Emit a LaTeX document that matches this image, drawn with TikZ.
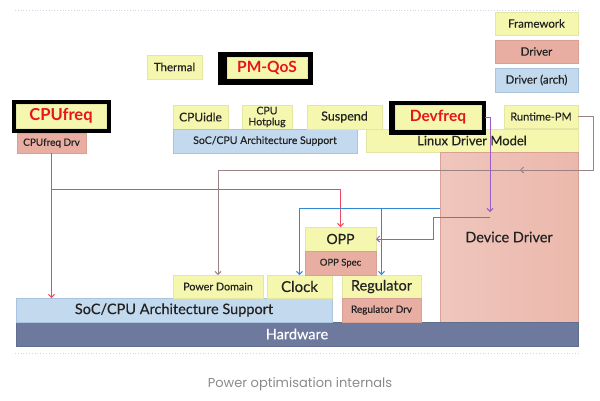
\documentclass[tikz,border=0pt]{standalone}
\usepackage{fontspec}
\setmainfont{Lato}[UprightFeatures={FakeBold=0.35}]
\newfontfamily\capfont{Poppins}
\usetikzlibrary{arrows.meta,calc}
\definecolor{yfill}{HTML}{F5F7AE}
\definecolor{ydraw}{HTML}{E4E7A4}
\definecolor{pfill}{HTML}{E8AEA2}
\definecolor{pdraw}{HTML}{D9A095}
\definecolor{ddleft}{HTML}{EFC6BD}
\definecolor{ddmid}{HTML}{E7A898}
\definecolor{ddright}{HTML}{ECB8AC}
\definecolor{bfill}{HTML}{C3D9EE}
\definecolor{bdraw}{HTML}{A9C4DE}
\definecolor{hwfill}{HTML}{6D7A9E}
\definecolor{redtxt}{HTML}{E8141E}
\definecolor{cred}{HTML}{F4475F}
\definecolor{cbrn}{HTML}{9C8282}
\definecolor{cblu}{HTML}{2E8AD6}
\definecolor{cpur}{HTML}{9B5CC4}
\definecolor{dotc}{HTML}{C8D8E8}
\definecolor{capc}{HTML}{8A8A8A}
\definecolor{txtc}{HTML}{222222}
\tikzset{
  base/.style={rectangle, inner sep=0pt, outer sep=0pt, line width=0.6pt, align=center, text=txtc},
  fw/.style={base, fill=yfill, draw=ydraw},
  drv/.style={base, fill=pfill, draw=pdraw},
  arch/.style={base, fill=bfill, draw=bdraw},
  blackbox/.style={base, fill=black, draw=black},
  conn/.style={line width=1pt, -{Straight Barb[length=3pt,width=6pt]}},
  fA/.style={font=\fontsize{10}{11}\selectfont},
  fB/.style={font=\fontsize{11.5}{12}\selectfont},
  fC/.style={font=\fontsize{14.5}{15}\selectfont},
  fR/.style={font=\fontsize{15.5}{16}\selectfont\bfseries, text=redtxt},
}
\newcommand\bx[7]{\node[#6, anchor=north west, minimum width={(#4)-(#2)}, minimum height={(#5)-(#3)}] (#1) at (#2,#3) {#7};}
\begin{document}
\begin{tikzpicture}[x=1pt,y=-1pt]
\useasboundingbox (0,0) rectangle (600,400);
% dotted rules
\draw[dotc, line width=0.8pt, dotted] (15,10) -- (579,10);
\draw[dotc, line width=0.8pt, dotted] (15,353) -- (579,353);
% legend
\bx{lfw}{495}{12}{578}{35}{fw,fB}{Framework}
\bx{ldrv}{495}{40}{578}{63}{drv,fB}{Driver}
\bx{larch}{495}{68}{578}{92}{arch,fB}{Driver (arch)}
% top frameworks
\bx{thermal}{147}{55}{202}{79}{fw,fB}{Thermal}
\bx{pmqosbox}{218}{52}{312}{84}{blackbox}{}
\bx{pmqos}{227}{57}{307}{78}{fw,fR}{PM-QoS}
\bx{cpufreqbox}{12}{100}{110}{132}{blackbox}{}
\bx{cpufreq}{16}{104}{106}{128}{fw,fR,font=\fontsize{16.5}{17}\selectfont\bfseries}{CPUfreq}
\bx{cpufreqdrv}{17}{133}{86}{153}{drv,fA}{CPUfreq Drv}
\bx{cpuidle}{173}{105}{228}{129}{fw,font=\fontsize{12}{13}\selectfont}{CPUidle}
\bx{hotplug}{242}{105}{292}{129}{fw,font=\fontsize{10.5}{11}\selectfont}{CPU\\Hotplug}
\bx{socup}{173}{129}{357}{153}{arch,font=\fontsize{10.5}{11}\selectfont}{SoC/CPU Architecture Support}
\bx{suspend}{307}{105}{382}{129}{fw,font=\fontsize{12.5}{13}\selectfont}{Suspend}
\bx{ldm}{366}{129}{578}{152}{fw,font=\fontsize{13}{14}\selectfont}{Linux Driver Model}
\bx{devfreqbox}{389}{101}{485}{134}{blackbox}{}
\bx{devfreq}{395}{105}{481}{129}{fw,fR}{Devfreq}
\bx{runtime}{504}{105}{578}{128}{fw,font=\fontsize{11}{12}\selectfont}{Runtime-PM}
% device driver
\node[base, anchor=north west, minimum width=138, minimum height=170,
  draw=pdraw, left color=ddleft, middle color=ddmid, right color=ddright,
  fC] (devdrv) at (440,152) {Device Driver};
% bottom
\bx{hw}{16}{322}{578}{346}{base,fill=hwfill,draw=hwfill!90!black,text=white,fC}{Hardware}
\bx{soclow}{16}{298}{332}{322}{arch,font=\fontsize{14.5}{15}\selectfont}{SoC/CPU Architecture Support}
\bx{pd}{173}{275}{263}{298}{fw,font=\fontsize{10.7}{11}\selectfont}{Power Domain}
\bx{clock}{267}{275}{332}{298}{fw,font=\fontsize{15}{16}\selectfont}{Clock}
\bx{reg}{342}{275}{421}{298}{fw,fC}{Regulator}
\bx{regdrv}{342}{298}{421}{322}{drv,fA}{Regulator Drv}
\bx{opp}{305}{227}{376}{251}{fw,font=\fontsize{14}{15}\selectfont}{OPP}
\bx{oppspec}{305}{251}{376}{275}{drv,font=\fontsize{9.5}{10}\selectfont}{OPP Spec}
% caption
\node[font=\capfont\fontsize{13}{14}\selectfont, text=capc] (cap) at (300,384) {Power optimisation internals};
% connectors
\coordinate (rj) at (cpufreqdrv.south |- 0,189);
\draw[conn, cred] (cpufreqdrv.south) -- (cpufreqdrv.south |- soclow.north);
\draw[conn, cred] (rj) -| (opp.north);
\coordinate (br1) at (593,170);
\draw[conn, cbrn] (runtime.east) -| (br1) -| (pd.north);
\coordinate (bm1) at (527,170);
\coordinate (bm2) at (520,170);
\draw[conn, cbrn] (bm1) -- (bm2);
\coordinate (bl) at (devdrv.west |- 0,208);
\draw[conn, cblu] (bl) -| (clock.north);
\draw[conn, cblu] (reg.north |- bl) -- (reg.north);
\coordinate (pu1) at (490,212);
\draw[conn, cpur] (devfreqbox.east) -| (pu1);
\coordinate (pu2) at (490,217);
\coordinate (pu3) at (433,217);
\draw[conn, cpur] (pu2) -- (pu3) |- (opp.east);
\end{tikzpicture}
\end{document}
